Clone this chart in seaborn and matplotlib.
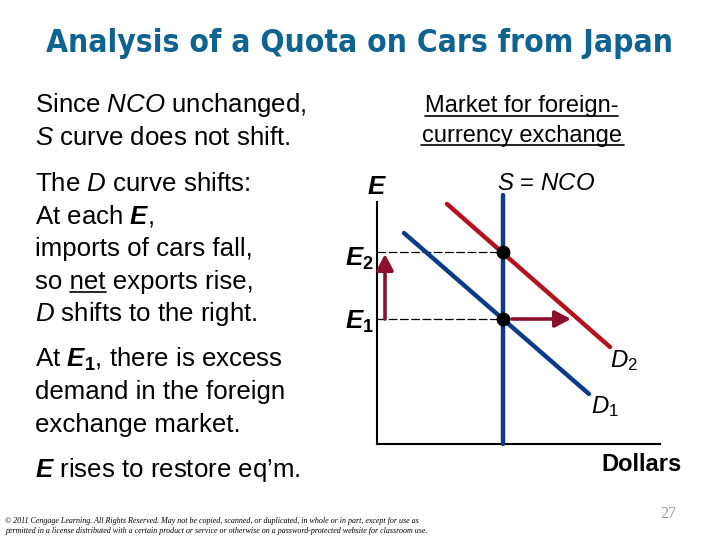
import matplotlib
matplotlib.use("Agg")
import matplotlib.pyplot as plt
import pandas as pd
import seaborn as sns

W, H = 720, 540
TITLE = "Analysis of a Quota on Cars from Japan"
D1_X = [27, 212]
D1_Y = [211, 50]
D2_X = [70, 233]
D2_Y = [240, 97]
S_X = [126, 126]
S_Y = [0, 249]
EQ_X = [126, 126]
EQ_Y = [125, 192]
E_SHIFT_X = 8
E_SHIFT_Y = [125, 190]
D_SHIFT_X = [135, 194]
D_SHIFT_Y = 125

sns.set_theme(style="white")
plt.rcParams["font.family"] = ["Liberation Sans", "DejaVu Sans"]
plt.rcParams.update({
    "mathtext.fontset": "custom",
    "mathtext.rm": "Liberation Sans",
    "mathtext.it": "Liberation Sans:italic",
    "mathtext.bf": "Liberation Sans:bold",
    "mathtext.bfit": "Liberation Sans:italic:bold",
})

fig = plt.figure(figsize=(W / 100, H / 100), dpi=100)
ax = fig.add_axes([377 / W, 1 - 444 / H, 283 / W, 249 / H])
ax.set_xlim(0, 283)
ax.set_ylim(0, 249)
ax.patch.set_alpha(0)

BLUE = "#0b3c8c"
RED = "#b5121b"
MAROON = "#8b0f2e"

lines = pd.concat([
    pd.DataFrame({"q": D1_X, "e": D1_Y, "curve": "D1"}),
    pd.DataFrame({"q": D2_X, "e": D2_Y, "curve": "D2"}),
    pd.DataFrame({"q": S_X, "e": S_Y, "curve": "S"}),
])
sns.lineplot(data=lines, x="q", y="e", hue="curve", estimator=None, sort=False,
             palette={"D1": BLUE, "D2": RED, "S": BLUE}, linewidth=3.2,
             legend=False, ax=ax, clip_on=False, zorder=3)
sns.scatterplot(x=EQ_X, y=EQ_Y, color="black", s=100, linewidth=0, ax=ax, zorder=5)

for y in EQ_Y:
    ax.plot([0, EQ_X[0]], [y, y], color="black", lw=0.9, dashes=(7, 2), zorder=1)

style = "-|>,head_length=0.8,head_width=0.42"
ax.annotate("", xy=(E_SHIFT_X, E_SHIFT_Y[1]), xytext=(E_SHIFT_X, E_SHIFT_Y[0]),
            arrowprops=dict(arrowstyle=style, color=MAROON, lw=2.6, shrinkA=0, shrinkB=0))
ax.annotate("", xy=(D_SHIFT_X[1], D_SHIFT_Y), xytext=(D_SHIFT_X[0], D_SHIFT_Y),
            arrowprops=dict(arrowstyle=style, color=MAROON, lw=2.6, shrinkA=0, shrinkB=0))

ax.set_xlabel("")
ax.set_ylabel("")
ax.set_xticks([])
ax.set_yticks([])
sns.despine(ax=ax)
for s in ("left", "bottom"):
    ax.spines[s].set_color("black")
    ax.spines[s].set_linewidth(1.5)
ax.spines["left"].set_bounds(0, 242)


def put(px, py, s, size=18.6, **kw):
    kw.setdefault("va", "baseline")
    kw.setdefault("color", "black")
    return fig.text(px / W, 1 - py / H, s, fontsize=size, **kw)


put(359.5, 52, TITLE, size=22.8, ha="center", family="DejaVu Sans",
    stretch="condensed", weight="bold", color="#0f6390")

body = [
    (112, r"Since $\mathit{NCO}$ unchanged,"),
    (145, r"$\mathit{S}$ curve does not shift."),
    (191, r"The $\mathit{D}$ curve shifts:"),
    (224, r"At each $\mathbfit{E}$,"),
    (256, "imports of cars fall,"),
    (289, "so net exports rise,"),
    (321, r"$\mathit{D}$ shifts to the right."),
    (367, r"At $\mathbfit{E}_{\mathbf{1}}$, there is excess"),
    (399, "demand in the foreign"),
    (432, "exchange market."),
    (477, r"$\mathbfit{E}$ rises to restore eq’m."),
]
for y, s in body:
    put(35, y, s)

# underline under the word "net", located from the measured text widths
renderer = fig.canvas.get_renderer()
def text_width(s):
    t = put(0, 0, s)
    w = t.get_window_extent(renderer).width
    t.remove()
    return w
net_end = 35 + text_width("so net")
net_start = net_end - text_width("net")
fig.add_artist(plt.Line2D([net_start / W, net_end / W], [1 - 291.5 / H] * 2, color="black", lw=1.2))

put(522, 112, "Market for foreign-", size=17, ha="center")
put(522, 142, "currency exchange", size=17, ha="center")
fig.add_artist(plt.Line2D([425 / W, 618 / W], [1 - 115.5 / H] * 2, color="black", lw=1.2))
fig.add_artist(plt.Line2D([421 / W, 624 / W], [1 - 145.5 / H] * 2, color="black", lw=1.2))

put(377, 194, r"$\mathbfit{E}$", ha="center")
put(546, 190, r"$\mathit{S}$ = $\mathit{NCO}$", size=17.3, ha="center")
put(345, 266, r"$\mathbfit{E}_{\mathbf{2}}$")
put(345, 329, r"$\mathbfit{E}_{\mathbf{1}}$")
put(610, 367, r"$\mathit{D}_{\mathrm{2}}$", size=17.3)
put(591, 413, r"$\mathit{D}_{\mathrm{1}}$", size=17.3)
put(682, 471, "Dollars", size=17, ha="right", weight="bold")

put(5, 523, "© 2011 Cengage Learning. All Rights Reserved. May not be copied, scanned, or duplicated, in whole or in part, except for use as",
    size=5.75, family="Liberation Serif", style="italic")
put(5, 533, "permitted in a license distributed with a certain product or service or otherwise on a password-protected website for classroom use.",
    size=5.75, family="Liberation Serif", style="italic")
put(668, 518, "27", size=11.5, ha="center", color="#9a9a9a", family="Liberation Serif")

fig.savefig("out.png", dpi=100)
